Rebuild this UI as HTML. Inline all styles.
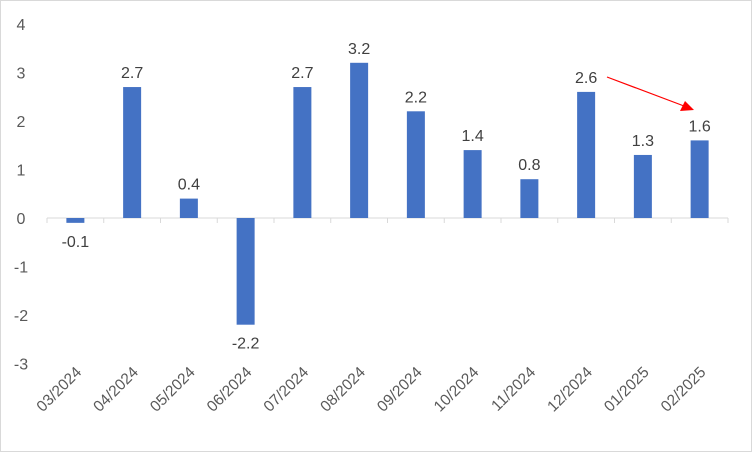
<!DOCTYPE html>
<html><head><meta charset="utf-8"><style>
html,body{margin:0;padding:0;background:#fff;}
svg{display:block;font-family:"Liberation Sans",Calibri,sans-serif;}
</style></head><body>
<svg id="chart" width="752" height="452">
<rect x="0.5" y="0.5" width="751" height="451" fill="#fff" stroke="#d9d9d9"/>
<g id="g"></g>
<line x1="607" y1="77" x2="684" y2="106" stroke="#ff0000" stroke-width="1.2"/>
<polygon points="694,110 680,111 685,101" fill="#ff0000"/>
</svg>
<script>
const categories=["03/2024","04/2024","05/2024","06/2024","07/2024","08/2024","09/2024","10/2024","11/2024","12/2024","01/2025","02/2025"];
const values=[-0.1,2.7,0.4,-2.2,2.7,3.2,2.2,1.4,0.8,2.6,1.3,1.6];
const yTicks=[4,3,2,1,0,-1,-2,-3];
const NS="http://www.w3.org/2000/svg";
const g=document.getElementById('g');
const x0=47,x1=728,y0=218,unit=48.5;
const bw=(x1-x0)/categories.length;
const y=v=>y0-v*unit;
const cx=i=>x0+bw*(i+0.5);
function mk(t,a){const e=document.createElementNS(NS,t);for(const k in a)e.setAttribute(k,a[k]);g.appendChild(e);return e;}
yTicks.forEach(t=>{
 const e=mk('text',{x:21,y:y(t)+6,'text-anchor':'middle','font-size':16,fill:'#595959'});
 e.textContent=t;
 
 
});
const ax=mk('line',{x1:x0,y1:y0,x2:x1,y2:y0,stroke:'#d9d9d9','stroke-width':1});


for(let i=0;i<=categories.length;i++){
 const t=mk('line',{x1:x0+bw*i,y1:y0,x2:x0+bw*i,y2:y0+5,stroke:'#d9d9d9'});
 
 
}
categories.forEach((c,i)=>{
 const v=values[i];
 const r=mk('rect',{x:cx(i)-9,y:Math.min(y(v),y0),width:18,height:Math.abs(y(v)-y0),fill:'#4472c4'});
 
 
 const ly=v>=0?y(v)-9:y(v)+24;
 const l=mk('text',{x:cx(i),y:ly,'text-anchor':'middle','font-size':16,fill:'#404040'});
 l.textContent=v.toFixed(1);
 
 
 const tx=cx(i)+7,ty=373;
 const xl=mk('text',{x:tx,y:ty,'text-anchor':'end','font-size':15.5,fill:'#595959',transform:`rotate(-45 ${tx} ${ty})`});
 xl.textContent=c;
 
 
});
</script>
</body></html>
